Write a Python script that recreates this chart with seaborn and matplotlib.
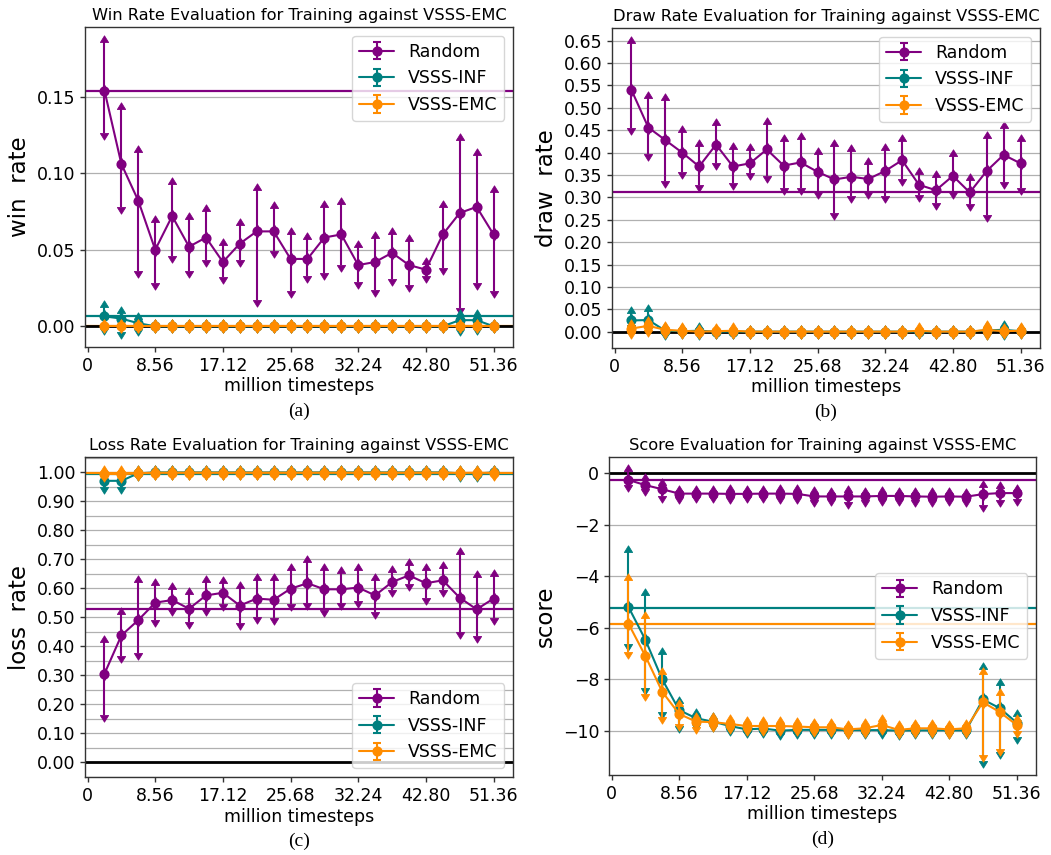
import numpy as np
import pandas as pd
import matplotlib
matplotlib.use("Agg")
import matplotlib.pyplot as plt
import seaborn as sns
from matplotlib.container import ErrorbarContainer
from matplotlib.lines import Line2D
from matplotlib.path import Path
from matplotlib.ticker import MultipleLocator, FormatStrFormatter

# ---------------- data ----------------
timesteps = [2.14, 4.28, 6.42, 8.56, 10.70, 12.84, 14.98, 17.12, 19.26, 21.40, 23.54, 25.68,
             27.82, 29.96, 32.10, 34.24, 36.38, 38.52, 40.66, 42.80, 44.94, 47.08, 49.22, 51.36]
xtick_pos = [0, 8.56, 17.12, 25.68, 34.24, 42.80, 51.36]
xtick_labels = ["0", "8.56", "17.12", "25.68", "32.24", "42.80", "51.36"]
series_names = ["Random", "VSSS-INF", "VSSS-EMC"]
series_colors = ["#800080", "#008080", "#ff8c00"]

Z = [0.0] * 18

win_random = [0.154, 0.106, 0.082, 0.050, 0.072, 0.052, 0.058, 0.042, 0.054, 0.062, 0.062, 0.044,
              0.044, 0.058, 0.060, 0.040, 0.042, 0.048, 0.040, 0.037, 0.060, 0.074, 0.078, 0.060]
win_random_up = [0.032, 0.036, 0.032, 0.018, 0.021, 0.018, 0.017, 0.011, 0.012, 0.027, 0.015, 0.016,
                 0.013, 0.020, 0.020, 0.012, 0.016, 0.012, 0.016, 0.004, 0.018, 0.048, 0.034, 0.028]
win_random_lo = [0.028, 0.028, 0.046, 0.022, 0.026, 0.016, 0.015, 0.010, 0.011, 0.045, 0.013, 0.021,
                 0.011, 0.023, 0.020, 0.011, 0.018, 0.017, 0.013, 0.004, 0.022, 0.062, 0.050, 0.037]
win_inf = [0.0065, 0.005, 0.002] + Z + [0.004, 0.004, 0.0]
win_inf_up = [0.006, 0.004, 0.003] + Z + [0.003, 0.003, 0.0]
win_inf_lo = [0.0075, 0.009, 0.004] + Z + [0.006, 0.005, 0.0]
win_emc = [0.0] * 24
win_emc_up = [0.0] * 24
win_emc_lo = [0.0] * 24
win_baselines = [0.154, 0.0065, 0.0]

draw_random = [0.540, 0.456, 0.428, 0.400, 0.369, 0.418, 0.369, 0.376, 0.407, 0.371, 0.378, 0.357,
               0.340, 0.346, 0.341, 0.359, 0.383, 0.328, 0.316, 0.348, 0.311, 0.359, 0.395, 0.376]
draw_random_up = [0.106, 0.066, 0.089, 0.047, 0.046, 0.043, 0.039, 0.029, 0.058, 0.054, 0.052, 0.039,
                  0.074, 0.057, 0.033, 0.046, 0.044, 0.024, 0.029, 0.045, 0.027, 0.074, 0.061, 0.050]
draw_random_lo = [0.086, 0.060, 0.092, 0.044, 0.042, 0.042, 0.037, 0.022, 0.059, 0.051, 0.057, 0.045,
                  0.074, 0.042, 0.030, 0.057, 0.041, 0.022, 0.028, 0.037, 0.026, 0.098, 0.061, 0.054]
draw_inf = [0.025, 0.026, 0.002, 0.001, 0.002] + [0.0] * 16 + [0.003, 0.004, 0.001]
draw_inf_up = [0.016, 0.020, 0.003, 0.002, 0.004] + [0.0] * 16 + [0.005, 0.006, 0.002]
draw_inf_lo = [0.010, 0.010, 0.006, 0.002, 0.004] + [0.0] * 16 + [0.005, 0.007, 0.002]
draw_emc = [0.007, 0.013, 0.004, 0.002, 0.0, 0.001, 0.002, 0.0, 0.0, 0.0, 0.0, 0.0,
            0.0, 0.0, 0.0, 0.0, 0.0, 0.002, 0.0, 0.0, 0.0, 0.004, 0.001, 0.002]
draw_emc_up = [0.005, 0.007, 0.005, 0.003, 0.001, 0.002, 0.003, 0.0, 0.0, 0.0, 0.0, 0.0,
               0.0, 0.0, 0.0, 0.0, 0.0, 0.003, 0.0, 0.0, 0.0, 0.006, 0.002, 0.003]
draw_emc_lo = [0.007, 0.010, 0.005, 0.003, 0.001, 0.002, 0.003, 0.0, 0.0, 0.0, 0.0, 0.0,
               0.0, 0.0, 0.0, 0.0, 0.0, 0.003, 0.0, 0.0, 0.0, 0.006, 0.002, 0.003]
draw_baselines = [0.311, None, None]

loss_random = [0.306, 0.438, 0.491, 0.551, 0.560, 0.530, 0.576, 0.585, 0.541, 0.565, 0.561, 0.599,
               0.618, 0.597, 0.597, 0.603, 0.576, 0.622, 0.645, 0.618, 0.628, 0.568, 0.528, 0.565]
loss_random_up = [0.108, 0.073, 0.131, 0.060, 0.039, 0.050, 0.046, 0.033, 0.061, 0.063, 0.068, 0.066,
                  0.074, 0.068, 0.056, 0.062, 0.054, 0.035, 0.037, 0.045, 0.044, 0.152, 0.111, 0.077]
loss_random_lo = [0.144, 0.070, 0.112, 0.060, 0.031, 0.047, 0.047, 0.037, 0.059, 0.065, 0.063, 0.051,
                  0.069, 0.071, 0.048, 0.048, 0.056, 0.028, 0.031, 0.052, 0.033, 0.118, 0.092, 0.068]
loss_inf = [0.971, 0.971, 0.997] + [1.0] * 18 + [0.997, 0.996, 1.0]
loss_inf_up = [0.020, 0.020, 0.003] + [0.001] * 18 + [0.005, 0.006, 0.001]
loss_inf_lo = [0.020, 0.020, 0.003] + [0.001] * 18 + [0.005, 0.006, 0.001]
loss_emc = [0.995, 0.994, 0.997] + [0.999] * 18 + [0.998, 0.999, 0.998]
loss_emc_up = [0.005, 0.006, 0.003] + [0.002] * 18 + [0.005, 0.003, 0.002]
loss_emc_lo = [0.005, 0.006, 0.003] + [0.002] * 18 + [0.005, 0.003, 0.002]
loss_baselines = [0.528, 0.995, 0.997]

score_random = [-0.26, -0.46, -0.62, -0.79, -0.79, -0.79, -0.80, -0.80, -0.79, -0.79, -0.80, -0.90,
                -0.90, -0.90, -0.90, -0.88, -0.88, -0.90, -0.91, -0.90, -0.91, -0.81, -0.77, -0.77]
score_random_up = [0.33, 0.19, 0.18, 0.08, 0.08, 0.08, 0.10, 0.08, 0.08, 0.10, 0.10, 0.12,
                   0.10, 0.18, 0.10, 0.10, 0.08, 0.10, 0.10, 0.08, 0.08, 0.28, 0.21, 0.10]
score_random_lo = [0.19, 0.14, 0.26, 0.14, 0.08, 0.10, 0.12, 0.10, 0.10, 0.12, 0.12, 0.12,
                   0.10, 0.22, 0.12, 0.12, 0.10, 0.12, 0.12, 0.10, 0.12, 0.41, 0.28, 0.22]
score_inf = [-5.19, -6.46, -8.00, -9.19, -9.51, -9.64, -9.81, -9.94, -9.91, -9.99, -9.96, -9.96,
             -9.96, -9.97, -9.97, -9.97, -9.99, -9.98, -9.98, -9.98, -9.98, -8.78, -9.12, -9.68]
score_inf_up = [2.15, 1.74, 0.97, 0.28, 0.13, 0.10, 0.08, 0.06, 0.06, 0.05, 0.05, 0.05,
                0.05, 0.05, 0.05, 0.05, 0.05, 0.05, 0.05, 0.05, 0.05, 1.20, 0.89, 0.26]
score_inf_lo = [1.44, 1.88, 1.28, 0.61, 0.22, 0.12, 0.10, 0.08, 0.08, 0.08, 0.08, 0.08,
                0.08, 0.08, 0.08, 0.08, 0.08, 0.08, 0.08, 0.08, 0.08, 2.37, 1.70, 0.57]
score_emc = [-5.84, -7.09, -8.48, -9.34, -9.64, -9.66, -9.73, -9.81, -9.81, -9.81, -9.83, -9.86,
             -9.86, -9.94, -9.90, -9.77, -9.96, -9.90, -9.90, -9.94, -9.90, -8.89, -9.27, -9.77]
score_emc_up = [1.70, 1.47, 0.70, 0.31, 0.10, 0.12, 0.12, 0.10, 0.10, 0.10, 0.10, 0.10,
                0.10, 0.10, 0.12, 0.14, 0.10, 0.10, 0.10, 0.10, 0.10, 1.08, 0.68, 0.15]
score_emc_lo = [1.10, 1.48, 0.99, 0.39, 0.20, 0.12, 0.12, 0.10, 0.10, 0.10, 0.10, 0.10,
                0.10, 0.10, 0.10, 0.10, 0.10, 0.10, 0.10, 0.10, 0.10, 2.06, 1.45, 0.22]
score_baselines = [-0.26, -5.23, -5.84]

# ---------------- style ----------------
sns.set_theme(style="whitegrid", rc={
    "axes.edgecolor": "#333333",
    "axes.linewidth": 1.0,
    "grid.color": "#b0b0b0",
    "grid.linewidth": 0.9,
    "xtick.bottom": True,
    "ytick.left": True,
    "xtick.color": "#333333",
    "ytick.color": "#333333",
    "xtick.labelcolor": "black",
    "ytick.labelcolor": "black",
    "xtick.major.size": 3.5,
    "ytick.major.size": 3.5,
    "axes.labelcolor": "black",
    "text.color": "black",
})
plt.rcParams["font.family"] = ["DejaVu Sans"]

# filled arrow heads whose base sits on the end of the error bar
ARROW_UP = Path([[-0.62, 0.0], [0.0, 1.0], [0.62, 0.0], [-0.62, 0.0]],
                [Path.MOVETO, Path.LINETO, Path.LINETO, Path.CLOSEPOLY])
ARROW_DOWN = Path([[-0.62, 0.0], [0.0, -1.0], [0.62, 0.0], [-0.62, 0.0]],
                  [Path.MOVETO, Path.LINETO, Path.LINETO, Path.CLOSEPOLY])

fig = plt.figure(figsize=(10.51, 8.55), dpi=100)
positions = [
    [0.0809, 0.5942, 0.4072, 0.3742],
    [0.5823, 0.5930, 0.4072, 0.3743],
    [0.0809, 0.0912, 0.4072, 0.3743],
    [0.5795, 0.0936, 0.4063, 0.3719],
]

panels = [
    dict(title="Win Rate Evaluation for Training against VSSS-EMC", ylabel="win  rate",
         series=[(win_random, win_random_lo, win_random_up),
                 (win_inf, win_inf_lo, win_inf_up),
                 (win_emc, win_emc_lo, win_emc_up)],
         baselines=win_baselines, loc="upper right", caption="(a)", major=0.05, minor=None, fmt="%.2f"),
    dict(title="Draw Rate Evaluation for Training against VSSS-EMC", ylabel="draw  rate",
         series=[(draw_random, draw_random_lo, draw_random_up),
                 (draw_inf, draw_inf_lo, draw_inf_up),
                 (draw_emc, draw_emc_lo, draw_emc_up)],
         baselines=draw_baselines, loc="upper right", caption="(b)", major=0.05, minor=None, fmt="%.2f"),
    dict(title="Loss Rate Evaluation for Training against VSSS-EMC", ylabel="loss  rate",
         series=[(loss_random, loss_random_lo, loss_random_up),
                 (loss_inf, loss_inf_lo, loss_inf_up),
                 (loss_emc, loss_emc_lo, loss_emc_up)],
         baselines=loss_baselines, loc="lower right", caption="(c)", major=0.10, minor=0.05, fmt="%.2f"),
    dict(title="Score Evaluation for Training against VSSS-EMC", ylabel="score",
         series=[(score_random, score_random_lo, score_random_up),
                 (score_inf, score_inf_lo, score_inf_up),
                 (score_emc, score_emc_lo, score_emc_up)],
         baselines=score_baselines, loc="center right", caption="(d)", major=2, minor=None, fmt=None),
]

for pos, p in zip(positions, panels):
    ax = fig.add_axes(pos)
    ax.grid(False)
    ax.yaxis.grid(True, which="major")
    for base, col in zip(p["baselines"], series_colors):
        if base is not None:
            ax.axhline(base, color=col, lw=1.6, zorder=1.5)
    ax.axhline(0, color="black", lw=2.0, zorder=1.6)

    handles = []
    for (vals, lo, up), name, col in zip(p["series"], series_names, series_colors):
        df = pd.DataFrame({"t": timesteps, "value": vals})
        sns.lineplot(data=df, x="t", y="value", ax=ax, color=col, marker="o", markersize=6.3,
                     markeredgecolor=col, markeredgewidth=1, linewidth=1.5, errorbar=None,
                     legend=False)
        line = ax.lines[-1]
        yerr = np.array([lo, up])
        up_eb = ax.errorbar(timesteps, vals, yerr=yerr, fmt="none", ecolor=col, elinewidth=1.5,
                            lolims=True, capsize=4.8)
        dn_eb = ax.errorbar(timesteps, vals, yerr=yerr, fmt="none", ecolor=col, elinewidth=1.5,
                            uplims=True, capsize=4.8)
        for cl in list(up_eb[1]):
            cl.set_marker(ARROW_UP)
            cl.set_markerfacecolor(col)
            cl.set_markeredgecolor(col)
            cl.set_markeredgewidth(0.6)
        for cl in list(dn_eb[1]):
            cl.set_marker(ARROW_DOWN)
            cl.set_markerfacecolor(col)
            cl.set_markeredgecolor(col)
            cl.set_markeredgewidth(0.6)
        cap_proxy = Line2D([], [], color=col, marker="_", markersize=5.5, markeredgewidth=1.5,
                           linestyle="none")
        handles.append(ErrorbarContainer((line, (cap_proxy,), up_eb[2]), has_xerr=False,
                                         has_yerr=True, label=name))

    ax.set_xticks(xtick_pos)
    ax.set_xticklabels(xtick_labels)
    ax.yaxis.set_major_locator(MultipleLocator(p["major"]))
    if p["fmt"]:
        ax.yaxis.set_major_formatter(FormatStrFormatter(p["fmt"]))
    if p["minor"]:
        ax.yaxis.set_minor_locator(MultipleLocator(p["minor"]))
        ax.yaxis.grid(True, which="minor", color="#b0b0b0", lw=0.9)
        ax.tick_params(axis="y", which="minor", length=0)
    ax.tick_params(axis="both", labelsize=12.5, width=1.0)
    ax.set_xlabel("million timesteps", fontsize=12.5, labelpad=2)
    ax.set_ylabel(p["ylabel"], fontsize=16.5, labelpad=4)
    ax.set_title(p["title"], fontsize=11.7, pad=5)
    for sp in ax.spines.values():
        sp.set_visible(True)
        sp.set_color("#333333")
        sp.set_linewidth(1.0)
    ax.legend(handles=handles, labels=series_names, loc=p["loc"], fontsize=12.5)
    cx = pos[0] + pos[2] / 2
    cy = pos[1] - 0.075
    fig.text(cx, cy, p["caption"], ha="center", va="center", fontsize=14,
             family=["Liberation Serif", "DejaVu Serif"])

fig.savefig("out.png", dpi=100)
